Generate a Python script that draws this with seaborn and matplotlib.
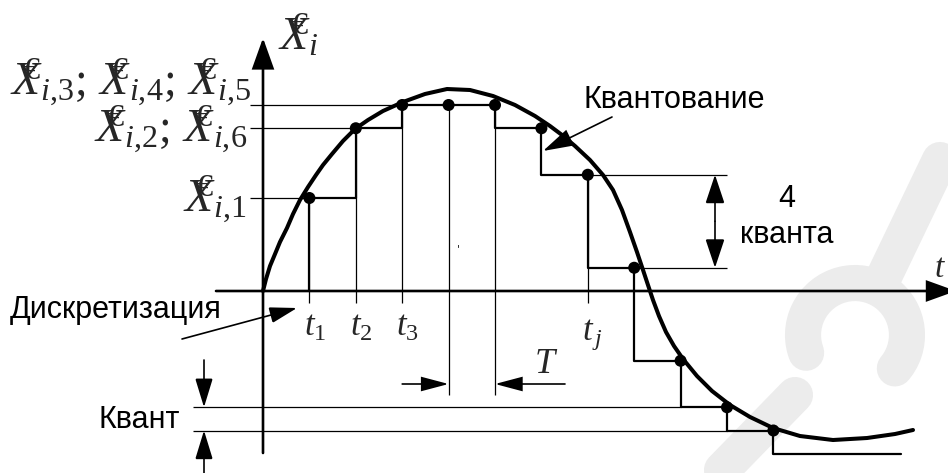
import numpy as np
import pandas as pd
import matplotlib
matplotlib.use("Agg")
import matplotlib.pyplot as plt
from matplotlib.patches import ArrowStyle
import seaborn as sns

# ---- signal data (time in sampling periods T, amplitude in quanta) ----
curve_t = [0.0, 0.065, 0.151, 0.259, 0.366, 0.517, 0.647, 0.797, 0.970, 1.142,
           1.293, 1.487, 1.724, 1.983, 2.263, 2.586, 3.017, 3.491, 3.966, 4.461,
           4.957, 5.431, 5.862, 6.185, 6.444, 6.724, 7.047, 7.328, 7.543, 7.737,
           7.909, 8.060, 8.190, 8.297, 8.405, 8.534, 8.685, 8.858, 9.052, 9.353,
           9.677, 10.065, 10.496, 10.991, 11.573, 12.284, 13.017, 13.621, 14.009]
curve_q = [0.0, 0.516, 1.075, 1.591, 2.108, 2.710, 3.312, 3.914, 4.473, 4.989,
           5.419, 5.892, 6.452, 6.968, 7.355, 7.742, 8.129, 8.473, 8.688, 8.645,
           8.387, 8.000, 7.527, 7.097, 6.710, 6.237, 5.634, 4.989, 4.344, 3.484,
           2.538, 1.677, 0.903, 0.258, -0.387, -1.075, -1.763, -2.366, -2.925, -3.656,
           -4.301, -4.903, -5.419, -5.892, -6.237, -6.409, -6.323, -6.151, -5.978]

# sampled and quantized values
sample_t = [1, 2, 3, 4, 5, 6, 7, 8, 9, 10, 11]
sample_q = [4, 7, 8, 8, 8, 7, 5, 1, -3, -5, -6]
tail_t = 13.75
tail_q = -7

# labelled levels on the amplitude axis
level_q = [8, 7, 4]
level_t = [3, 2, 1]
level_subs = [["i,3", "i,4", "i,5"], ["i,2", "i,6"], ["i,1"]]
tick_t = [1, 2, 3]
tick_labels = ["$t_1$", "$t_2$", "$t_3$"]

# ---- page geometry (pixels) ----
W, H = 948, 473
X0, Y0 = 263, 291          # origin
TPX, QPX = 46.4, 23.25     # one period, one quantum

sns.set_theme(style="white")
plt.rcParams["font.family"] = ["Liberation Sans", "DejaVu Sans"]
plt.rcParams["mathtext.fontset"] = "custom"
plt.rcParams["mathtext.rm"] = "Liberation Serif"
plt.rcParams["mathtext.it"] = "Liberation Serif:italic"
plt.rcParams["mathtext.bf"] = "Liberation Serif:bold"

fig = plt.figure(figsize=(W / 100, H / 100), dpi=100)
ax = fig.add_axes([0, 0, 1, 1])
ax.set_xlim(-X0 / TPX, (W - X0) / TPX)
ax.set_ylim((Y0 - H) / QPX, Y0 / QPX)
ax.axis("off")


def u(px):
    return (px - X0) / TPX


def v(py):
    return (Y0 - py) / QPX


def arrow(start, end, hl, hw, lw=1.2):
    ax.annotate("", xy=end, xytext=start, annotation_clip=False,
                arrowprops=dict(arrowstyle=ArrowStyle("-|>", head_length=hl, head_width=hw),
                                mutation_scale=1, lw=lw, color="black",
                                shrinkA=0, shrinkB=0, joinstyle="miter"))


# faint publisher mark in the lower right background
mark = dict(color="#ececec", lw=26, solid_capstyle="round", zorder=0)
ax.plot([u(880), u(940)], [v(285), v(160)], **mark)
ang = np.linspace(np.radians(-40), np.radians(200), 40)
ax.plot(u(855) + 52 / TPX * np.cos(ang), v(335) + 52 / QPX * np.sin(ang), **mark)
ax.plot([u(722), u(795)], [v(470), v(395)], **mark)

# axes with arrow heads
arrow((0, v(453)), (0, v(38)), hl=19, hw=6.8, lw=1.9)
arrow((u(216), 0), (u(956), 0), hl=18, hw=6.5, lw=1.9)

# thin guide lines
thin = dict(color="black", lw=0.9)
ax.hlines(level_q, u(250), level_t, **thin)
ax.vlines([1, 2, 3, 7], v(303), [4, 7, 8, 5], **thin)
ax.vlines([4, 5], v(395), 8, **thin)
ax.hlines([5, 1], [7, 8], u(727), **thin)
ax.hlines([-5, -6], u(193), [9, 10], **thin)

# hold-and-quantize staircase: each interval keeps the lower neighbour level
st_t = [0] + sample_t + [tail_t]
st_q = [0] + sample_q + [tail_q]
lev = np.minimum(st_q[:-1], st_q[1:])
vx, vy = [st_t[1]], [0]
for k in range(1, len(lev)):
    vx += [st_t[k], st_t[k + 1]]
    vy += [lev[k], lev[k]]
stairs = pd.DataFrame({"t": vx, "q": vy})
sns.lineplot(data=stairs, x="t", y="q", sort=False, estimator=None,
             color="black", lw=1.6, ax=ax)

# continuous signal
sig = pd.DataFrame({"t": curve_t, "q": curve_q})
sns.lineplot(data=sig, x="t", y="q", sort=False, estimator=None,
             color="black", lw=2.9, ax=ax, solid_capstyle="round",
             solid_joinstyle="round")

# samples
smp = pd.DataFrame({"t": sample_t, "q": sample_q})
sns.scatterplot(data=smp, x="t", y="q", s=75, color="black",
                edgecolor="none", ax=ax, zorder=5)

# dimension arrows
arrow((u(715), 3.0), (u(715), 5), hl=18, hw=6.0)
arrow((u(715), 3.0), (u(715), 1), hl=18, hw=6.0)
arrow((u(204), v(360)), (u(204), -5), hl=18, hw=5.5)
arrow((u(204), v(473)), (u(204), -6), hl=18, hw=5.5)
arrow((3, v(384)), (4, v(384)), hl=17, hw=4.5)
arrow((u(565), v(384)), (5, v(384)), hl=17, hw=4.5)
arrow((u(612), v(117)), (u(543), v(151)), hl=19, hw=5.5)
arrow((u(182), v(339)), (u(297), v(308)), hl=17, hw=5.0)

# captions
cap = dict(fontsize=22, color="black", va="baseline")
ax.text(u(583), v(108), "Квантование", ha="left", **cap)
ax.text(u(10), v(318), "Дискретизация", ha="left", **cap)
ax.text(u(180), v(428), "Квант", ha="right", **cap)
ax.text(u(787), v(207), "4", ha="center", **cap)
ax.text(u(787), v(243), "кванта", ha="center", **cap)

# time labels
for k, lab in zip(tick_t, tick_labels):
    ax.text(k + 0.12, v(336), lab, fontsize=25, ha="center", va="baseline")
ax.text(7.1, v(340), r"$t_{\,j}$", fontsize=25, ha="center", va="baseline")
ax.text(u(546), v(373), "$T$", fontsize=26, ha="center", va="baseline")
ax.text(u(934), v(277), "$t$", fontsize=24, ha="left", va="baseline")
ax.text(u(458), v(252), "'", fontsize=8, ha="center", va="baseline",
        family="DejaVu Sans", style="italic")


def tilde_x(sub):
    # X with the euro-like tilde mark laid over it, then the subscript
    return r"X\!\!\!{}^{€}{}_{%s}" % sub.replace(",", "{,}")


def tilde_label(x, y, subs, ha="right", size=33):
    txt = "$" + r";\,".join(tilde_x(s) for s in subs) + "$"
    ax.text(x, y, txt, fontsize=size, ha=ha, va="baseline")


tilde_label(u(251), v(96), level_subs[0])
tilde_label(u(247), v(143), level_subs[1])
tilde_label(u(247), v(213), level_subs[2])
tilde_label(u(278), v(50), ["i"], ha="left")

fig.savefig("out.png", dpi=100)
